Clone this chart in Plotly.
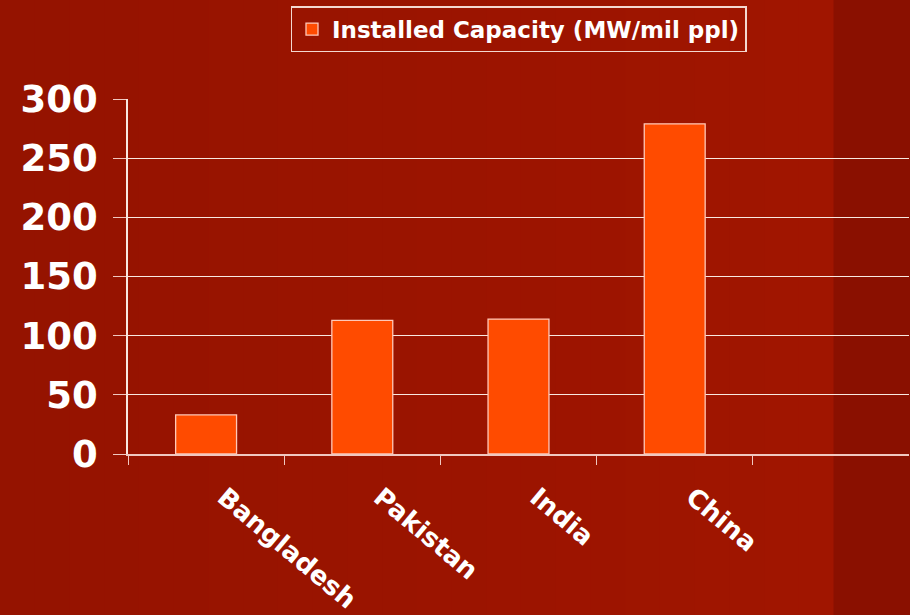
import plotly.graph_objects as go

categories = ["Bangladesh", "Pakistan", "India", "China"]
capacity = [33, 113, 114, 279]
series_name = "Installed Capacity (MW/mil ppl)"
y_ticks = [0, 50, 100, 150, 200, 250, 300]

fig = go.Figure()
fig.add_trace(go.Bar(
    x=categories, y=capacity, name=series_name,
    marker=dict(color="#FF4B00", line=dict(color="#FFC8B8", width=1.3)),
    width=0.39, showlegend=True,
))

# background: subtle horizontal gradient + darker right strip
PLOT_L, PLOT_W, STRIP_X = 128, 781, 833.5
c0, c1 = (0x95, 0x13, 0x00), (0xA0, 0x15, 0x00)
nb = 24
shapes = []
for i in range(nb):
    t = i / (nb - 1)
    col = "rgb(%d,%d,%d)" % tuple(round(a + (b - a) * t) for a, b in zip(c0, c1))
    xa = STRIP_X * i / nb
    xb = STRIP_X * (i + 1) / nb + 0.5
    shapes.append(dict(
        type="rect", xref="paper", yref="paper", layer="below",
        x0=(xa - PLOT_L) / PLOT_W, x1=(xb - PLOT_L) / PLOT_W, y0=-1, y1=2,
        fillcolor=col, line=dict(width=0),
    ))
shapes.append(dict(
    type="rect", xref="paper", yref="paper", layer="below",
    x0=(STRIP_X - PLOT_L) / PLOT_W, x1=1.01, y0=-1, y1=2,
    fillcolor="#8A1000", line=dict(width=0),
))

fig.update_layout(
    width=910, height=615,
    margin=dict(l=128, r=1, t=99, b=161, autoexpand=False),
    paper_bgcolor="#9C1400",
    plot_bgcolor="rgba(0,0,0,0)",
    font=dict(family="DejaVu Sans", color="white"),
    showlegend=True,
    legend=dict(
        x=0.5, xanchor="center", y=0.99, yref="container", yanchor="top",
        orientation="h",
        bordercolor="#F4D8D0", borderwidth=1.5,
        bgcolor="rgba(0,0,0,0)",
        font=dict(size=23, family="DejaVu Sans", color="white", weight="bold"),
        itemwidth=30, tracegroupgap=0,
    ),
    xaxis=dict(
        type="category", range=[-0.5, 4.5], automargin=False,
        tickangle=40, tickson="boundaries", ticks="outside", ticklen=9,
        tickcolor="#F0C8C0", tickwidth=1.3,
        showline=True, linecolor="#F0C8C0", linewidth=1.5,
        showgrid=False,
        tickfont=dict(size=26, family="DejaVu Sans", color="white", weight="bold"),
        ticklabelstandoff=16, ticklabelshift=18,
    ),
    yaxis=dict(
        range=[0, 300], tickvals=y_ticks, automargin=False,
        ticks="outside", ticklen=13, tickcolor="#F0C8C0", tickwidth=1.3,
        showline=True, linecolor="#F8E8E0", linewidth=1.5,
        showgrid=True, gridcolor="#F8E8E0", gridwidth=1.2,
        zeroline=False,
        tickfont=dict(size=37, family="DejaVu Sans", color="white", weight="bold"),
        ticklabelstandoff=8,
    ),
    shapes=shapes,
)

fig.write_html(
    "out.html",
    config={"displayModeBar": False},
    post_script="document.body.style.margin='0px';document.body.style.overflow='hidden';",
)
